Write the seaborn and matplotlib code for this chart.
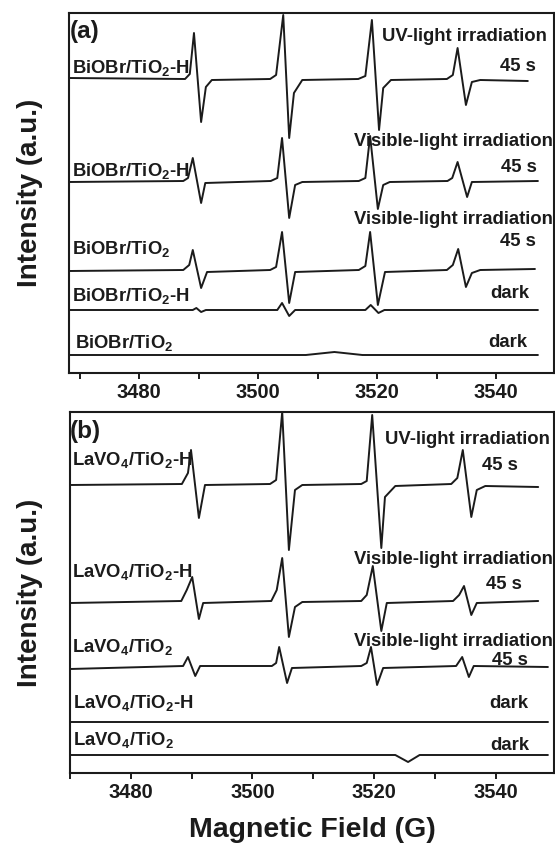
import matplotlib
matplotlib.use("Agg")
import matplotlib.pyplot as plt
from matplotlib.ticker import MultipleLocator
import pandas as pd
import seaborn as sns

sns.set_style("ticks")
plt.rcParams["font.family"] = ["Liberation Sans", "DejaVu Sans"]
plt.rcParams["font.weight"] = "bold"
plt.rcParams["mathtext.default"] = "regular"

# ---------------- panel (a): BiOBr/TiO2 samples ----------------
# field (G) / relative intensity (a.u.) of each DMPO-·OH spectrum
a_uv_h_field = [3468.2, 3487.7, 3488.5, 3489.2, 3490.4, 3491.2, 3492.2,
                3502.0, 3503.0, 3504.2, 3505.2, 3506.0, 3507.4,
                3516.8, 3518.0, 3519.1, 3520.3, 3521.0, 3522.3,
                3531.7, 3532.7, 3533.5, 3534.9, 3535.9, 3537.3, 3545.3]
a_uv_h_int = [1, 0, 5, 46, -43, -8, -1,
              0, 4, 64, -59, -14, -1,
              0, 3, 59, -51, -9, -1,
              0, 4, 31, -26, -3, -1, -2]

a_vis_h_field = [3468.2, 3487.4, 3488.2, 3489.0, 3490.4, 3491.1,
                 3502.1, 3503.2, 3504.0, 3505.2, 3506.2, 3507.4,
                 3516.9, 3518.0, 3518.8, 3520.1, 3521.0, 3522.1,
                 3531.8, 3532.6, 3533.5, 3535.1, 3535.9, 3547.0]
a_vis_h_int = [-1, 0, 3, 23, -22, -2,
               0, 3, 43, -37, -4, -1,
               0, 3, 45, -28, -4, -1,
               0, 3, 19, -16, -1, 0]

a_vis_field = [3468.2, 3487.4, 3488.4, 3489.0, 3490.4, 3491.4,
               3502.0, 3503.0, 3504.0, 3505.2, 3506.2,
               3516.9, 3518.0, 3518.8, 3520.1, 3521.3,
               3531.7, 3532.7, 3533.6, 3534.9, 3535.9, 3537.3, 3546.5]
a_vis_int = [-1, 0, 5, 20, -18, -2,
             0, 3, 38, -33, -2,
             0, 4, 38, -35, -2,
             0, 5, 21, -17, -3, 0, 1]

a_dark_h_field = [3468.2, 3489.0, 3489.6, 3490.4, 3491.2,
                  3503.2, 3504.0, 3505.2, 3506.2,
                  3518.0, 3518.9, 3520.2, 3521.2, 3547.0]
a_dark_h_int = [0, 0, 2, -2, 0,
                0, 7, -6, 0,
                0, 5, -3, 0, 0]

a_dark_field = [3468.2, 3508.0, 3512.8, 3517.5, 3547.0]
a_dark_int = [0, 0, 3, 0, 0]

# ---------------- panel (b): LaVO4/TiO2 samples ----------------
b_uv_h_field = [3470.0, 3488.4, 3489.4, 3489.9, 3491.2, 3492.2,
                3502.9, 3503.9, 3504.9, 3506.0, 3507.0, 3508.2,
                3517.9, 3518.8, 3519.7, 3521.2, 3521.8, 3523.5,
                3532.7, 3533.7, 3534.6, 3536.0, 3536.9, 3538.3, 3547.0]
b_uv_h_int = [-1, 0, 11, 34, -34, -1,
              0, 4, 72, -66, -6, -1,
              0, 3, 69, -64, -13, -2,
              0, 6, 34, -33, -6, -2, -3]

b_vis_h_field = [3470.0, 3488.3, 3489.2, 3490.1, 3491.2, 3491.9,
                 3503.1, 3504.0, 3504.9, 3506.0, 3507.0, 3508.2,
                 3517.9, 3518.8, 3519.8, 3521.2, 3522.1,
                 3533.0, 3534.0, 3534.8, 3536.0, 3536.9, 3547.0]
b_vis_h_int = [-2, 0, 11, 24, -18, -2,
               0, 11, 43, -36, -6, -1,
               0, 6, 35, -30, -2,
               0, 6, 15, -14, -2, 0]

b_vis_field = [3470.0, 3488.6, 3489.4, 3490.6, 3491.4,
               3503.2, 3503.9, 3504.4, 3505.7, 3506.5,
               3517.9, 3518.8, 3519.5, 3520.5, 3521.5,
               3533.5, 3534.5, 3535.6, 3536.4, 3548.6]
b_vis_int = [-3, 0, 9, -10, 0,
             0, 3, 19, -17, -2,
             0, 3, 19, -19, -2,
             0, 9, -11, 0, -1]

b_dark_h_field = [3470.0, 3548.6]
b_dark_h_int = [0, 0]

b_dark_field = [3470.0, 3523.5, 3525.6, 3527.5, 3548.6]
b_dark_int = [0, 0, -7, 0, 0]

traces_a = {
    "uv_h": (a_uv_h_field, a_uv_h_int),
    "vis_h": (a_vis_h_field, a_vis_h_int),
    "vis": (a_vis_field, a_vis_int),
    "dark_h": (a_dark_h_field, a_dark_h_int),
    "dark": (a_dark_field, a_dark_int),
}
traces_b = {
    "uv_h": (b_uv_h_field, b_uv_h_int),
    "vis_h": (b_vis_h_field, b_vis_h_int),
    "vis": (b_vis_field, b_vis_int),
    "dark_h": (b_dark_h_field, b_dark_h_int),
    "dark": (b_dark_field, b_dark_int),
}

# vertical stacking of the spectra
offsets_a = {"uv_h": 294, "vis_h": 192, "vis": 103, "dark_h": 63, "dark": 18}
offsets_b = {"uv_h": 289, "vis_h": 172, "vis": 107, "dark_h": 51, "dark": 18}


def stack(traces, offsets):
    frames = []
    for name, (field, inten) in traces.items():
        frames.append(pd.DataFrame({
            "field": field,
            "signal": [v + offsets[name] for v in inten],
            "trace": name,
        }))
    return pd.concat(frames, ignore_index=True)


W, H = 555, 848
INK = "#1b1b1b"
fig = plt.figure(figsize=(W / 100, H / 100), dpi=100)
ax_a = fig.add_axes([69 / W, 1 - 373 / H, 485 / W, 360 / H])
ax_b = fig.add_axes([70 / W, 1 - 773 / H, 484 / W, 361 / H])

panels = [
    (ax_a, stack(traces_a, offsets_a), (3468.2, 3549.7), (0, 360)),
    (ax_b, stack(traces_b, offsets_b), (3470.0, 3549.6), (0, 361)),
]

for ax, df, xlim, ylim in panels:
    sns.lineplot(data=df, x="field", y="signal", units="trace",
                 estimator=None, sort=False, color=INK,
                 linewidth=1.4, ax=ax, legend=False)
    ax.set_xlim(*xlim)
    ax.set_ylim(*ylim)
    ax.set_yticks([])
    ax.xaxis.set_major_locator(MultipleLocator(20))
    ax.xaxis.set_minor_locator(MultipleLocator(10))
    ax.tick_params(axis="x", which="major", direction="out", length=4.5,
                   width=1.4, labelsize=14.5, pad=2.5, colors=INK)
    ax.tick_params(axis="x", which="minor", direction="out", length=4,
                   width=1.4, colors=INK)
    for side in ["top", "right", "left", "bottom"]:
        ax.spines[side].set_visible(True)
        ax.spines[side].set_linewidth(1.5)
        ax.spines[side].set_color(INK)
    ax.set_xlabel("")
    ax.set_ylabel("Intensity (a.u.)", fontsize=20, fontweight="bold",
                  color=INK)
    for lab in ax.get_xticklabels():
        lab.set_fontweight("bold")

ax_a.yaxis.set_label_coords((43 - 69) / 485, 0.5)
ax_b.yaxis.set_label_coords((43 - 70) / 484, 0.5)
ax_b.set_xlabel("Magnetic Field (G)", fontsize=20.5, fontweight="bold",
                color=INK)
ax_b.xaxis.set_label_coords(0.5, (773 - 817) / 361)

# sample / condition labels: (text, x px, baseline y px, alignment)
labels = [
    ("BiOBr/TiO$_2$-H", 72, 73, "left"),
    ("UV-light irradiation", 547, 41, "right"),
    ("45 s", 536, 71, "right"),
    ("BiOBr/TiO$_2$-H", 72, 176, "left"),
    ("Visible-light irradiation", 553, 146, "right"),
    ("45 s", 537, 172, "right"),
    ("BiOBr/TiO$_2$", 72, 254, "left"),
    ("Visible-light irradiation", 553, 224, "right"),
    ("45 s", 536, 246, "right"),
    ("BiOBr/TiO$_2$-H", 72, 301, "left"),
    ("dark", 529, 298, "right"),
    ("BiOBr/TiO$_2$", 75, 348, "left"),
    ("dark", 527, 347, "right"),
    ("LaVO$_4$/TiO$_2$-H", 72, 465, "left"),
    ("UV-light irradiation", 550, 444, "right"),
    ("45 s", 518, 470, "right"),
    ("LaVO$_4$/TiO$_2$-H", 72, 577, "left"),
    ("Visible-light irradiation", 553, 564, "right"),
    ("45 s", 522, 589, "right"),
    ("LaVO$_4$/TiO$_2$", 72, 652, "left"),
    ("Visible-light irradiation", 553, 646, "right"),
    ("45 s", 528, 665, "right"),
    ("LaVO$_4$/TiO$_2$-H", 73, 708, "left"),
    ("dark", 528, 708, "right"),
    ("LaVO$_4$/TiO$_2$", 73, 745, "left"),
    ("dark", 529, 750, "right"),
]
for text, x, y, ha in labels:
    fig.text(x / W, 1 - y / H, text, ha=ha, va="baseline", fontsize=13.3,
             fontweight="bold", color=INK)

for text, x, y in [("(a)", 70, 38), ("(b)", 70, 438)]:
    fig.text(x / W, 1 - y / H, text, ha="left", va="baseline", fontsize=17.5,
             fontweight="bold", color=INK)

fig.savefig("out.png", dpi=100)
